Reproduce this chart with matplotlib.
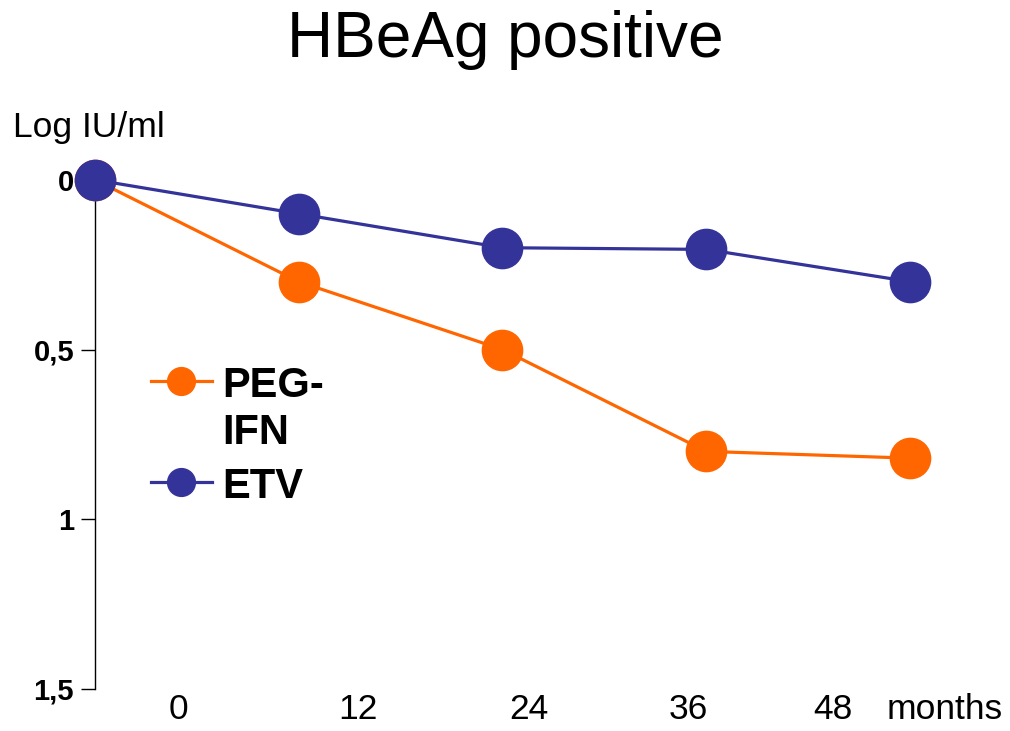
import matplotlib
matplotlib.use('Agg')
import matplotlib.pyplot as plt
from matplotlib.lines import Line2D

plt.rcParams['font.family'] = ['Liberation Sans', 'DejaVu Sans']

# data (log IU/ml decline)
visits = [0, 1, 2, 3, 4]
peg_ifn = [0, 0.30, 0.50, 0.80, 0.82]
etv = [0, 0.10, 0.20, 0.205, 0.30]
month_labels = ['0', '12', '24', '36', '48', 'months']
y_ticks = [0, 0.5, 1, 1.5]
y_tick_labels = ['0', '0,5', '1', '1,5']

orange = '#FF6600'
navy = '#333399'

fig = plt.figure(figsize=(10.1, 7.31), dpi=100)
ax = fig.add_axes([0.094, 0.0575, 0.807, 0.6965])

ax.plot(visits, peg_ifn, color=orange, lw=2.3, marker='o', ms=29, clip_on=False, zorder=3)
ax.plot(visits, etv, color=navy, lw=2.3, marker='o', ms=29, clip_on=False, zorder=4)

ax.set_xlim(0, 4)
ax.set_ylim(1.5, 0)
ax.set_yticks(y_ticks)
ax.set_yticklabels(y_tick_labels, fontsize=21, fontweight='bold')
ax.tick_params(axis='y', direction='out', length=10, width=1, pad=5)
ax.set_xticks([])
for s in ['top', 'right', 'bottom']:
    ax.spines[s].set_visible(False)
ax.spines['left'].set_linewidth(1)

# month labels sit below the plot, not aligned with the points
label_x = [0.41, 1.29, 2.13, 2.91, 3.62, 4.17]
for x, t in zip(label_x, month_labels):
    ax.text(x, 1.56, t, fontsize=25.5, ha='center', va='center', clip_on=False)

fig.text(0.5, 0.945, 'HBeAg positive', fontsize=46, ha='center', va='center')
fig.text(0.013, 0.826, 'Log IU/ml', fontsize=25.5, ha='left', va='center')

handles = [Line2D([], [], color=orange, lw=2.3, marker='o', ms=20),
           Line2D([], [], color=navy, lw=2.3, marker='o', ms=20)]
leg = ax.legend(handles, ['PEG-\nIFN', 'ETV'], loc='upper left', bbox_to_anchor=(0.023, 0.708),
                frameon=False, prop={'size': 30, 'weight': 'bold'}, handlelength=1.45,
                handletextpad=0.25, labelspacing=0.33)
for t in leg.get_texts():
    t.set_linespacing(1.24)
# put the handle next to the first line of a two-line label
for col in leg._legend_handle_box.get_children():
    for row in col.get_children():
        row.align = 'top'

fig.savefig('out.png', dpi=100)
